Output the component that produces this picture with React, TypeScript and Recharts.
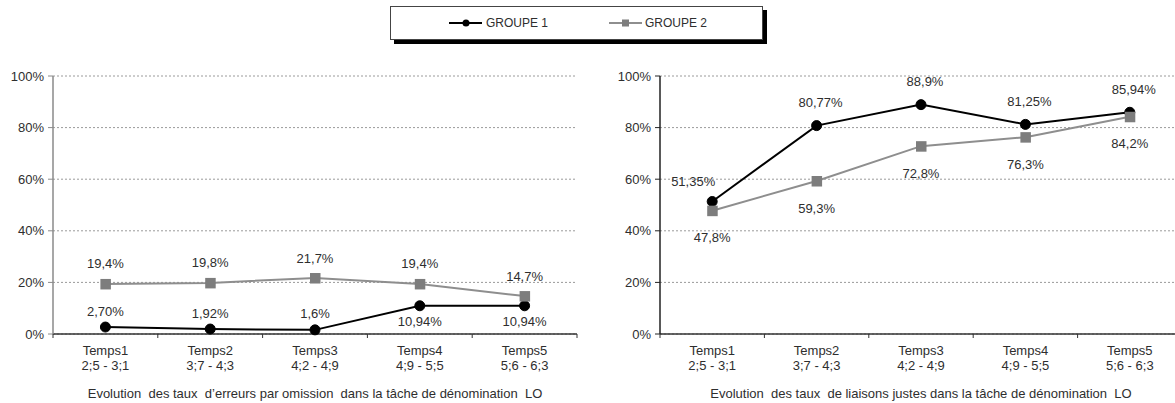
import React from 'react';
import { LineChart, Line, XAxis, YAxis, CartesianGrid, LabelList, Label } from 'recharts';

const temps = ['Temps1', 'Temps2', 'Temps3', 'Temps4', 'Temps5'];
const ages = ['2;5 - 3;1', '3;7 - 4;3', '4;2 - 4;9', '4;9 - 5;5', '5;6 - 6;3'];
const yTicks = [0, 20, 40, 60, 80, 100];

// taux d'erreurs par omission
const omissionGroupe1 = [2.7, 1.92, 1.6, 10.94, 10.94];
const omissionGroupe2 = [19.4, 19.8, 21.7, 19.4, 14.7];
const omissionLabels1 = ['2,70%', '1,92%', '1,6%', '10,94%', '10,94%'];
const omissionLabels2 = ['19,4%', '19,8%', '21,7%', '19,4%', '14,7%'];

// taux de liaisons justes
const liaisonGroupe1 = [51.35, 80.77, 88.9, 81.25, 85.94];
const liaisonGroupe2 = [47.8, 59.3, 72.8, 76.3, 84.2];
const liaisonLabels1 = ['51,35%', '80,77%', '88,9%', '81,25%', '85,94%'];
const liaisonLabels2 = ['47,8%', '59,3%', '72,8%', '76,3%', '84,2%'];

// where each value label sits relative to its point
const omissionPlace1 = ['up', 'up', 'up', 'down', 'down'];
const omissionPlace2 = ['up', 'up', 'up', 'up', 'up'];
const liaisonPlace1 = ['upLeft', 'up', 'up', 'up', 'up'];
const liaisonPlace2 = ['down', 'down', 'down', 'down', 'down'];

const FONT = '"Liberation Sans", Arial, sans-serif';
const TEXT = '#2e2e2e';
const G1_COLOR = '#000';
const G2_LINE = '#8e8e8e';
const G2_MARK = '#7d7d7d';

const omissionData = temps.map((t, i) => ({ name: t, g1: omissionGroupe1[i], g2: omissionGroupe2[i] }));
const liaisonData = temps.map((t, i) => ({ name: t, g1: liaisonGroupe1[i], g2: liaisonGroupe2[i] }));

const makeTick = (halfBand: number) => (props: any) => {
  const { x, y, index, payload } = props;
  return (
    <g>
      <line x1={x - halfBand} y1={y} x2={x - halfBand} y2={y + 4} stroke="#333" />
      {index === temps.length - 1 && (
        <line x1={x + halfBand} y1={y} x2={x + halfBand} y2={y + 4} stroke="#333" />
      )}
      <text x={x} y={y + 21} textAnchor="middle" fontSize={13} fill={TEXT} fontFamily={FONT}>
        {payload.value}
      </text>
      <text x={x} y={y + 36} textAnchor="middle" fontSize={13} fill={TEXT} fontFamily={FONT}>
        {ages[index]}
      </text>
    </g>
  );
};

const makeLabel =
  (labels: string[], places: string[], offsets: Record<string, [number, number]>) => (props: any) => {
    const { x, y, index } = props;
    const [dx, dy] = offsets[places[index]];
    return (
      <text
        x={x + dx}
        y={y + dy}
        textAnchor="middle"
        dominantBaseline="central"
        fontSize={13}
        fill={TEXT}
        fontFamily={FONT}
      >
        {labels[index]}
      </text>
    );
  };

const squareDot = (props: any) => {
  const { cx, cy, index } = props;
  return <rect key={index} x={cx - 5} y={cy - 5} width={10.5} height={10.5} fill={G2_MARK} />;
};

const makeTitle = (title: string) => (props: any) => {
  const { viewBox } = props;
  return (
    <text
      x={viewBox.x + viewBox.width / 2}
      y={viewBox.y + viewBox.height - 5}
      textAnchor="middle"
      fontSize={13}
      fill={TEXT}
      fontFamily={FONT}
      style={{ whiteSpace: 'pre' }}
    >
      {title}
    </text>
  );
};

function Panel({
  data,
  width,
  yAxisWidth,
  yAxisColor,
  right,
  title,
  labels1,
  labels2,
  place1,
  place2,
  off1,
  off2,
}: any) {
  const plotWidth = width - yAxisWidth - right;
  const halfBand = plotWidth / temps.length / 2;
  return (
    <LineChart width={width} height={343} data={data} margin={{ top: 16, right, left: 0, bottom: 0 }}>
      <CartesianGrid vertical={false} stroke="#9a9a9a" strokeDasharray="2 2" />
      <XAxis
        dataKey="name"
        interval={0}
        height={69}
        padding={{ left: halfBand, right: halfBand }}
        tickSize={0}
        tickMargin={0}
        tickLine={false}
        axisLine={{ stroke: '#333', strokeWidth: 1.5 }}
        tick={makeTick(halfBand)}
      >
        <Label content={makeTitle(title)} />
      </XAxis>
      <YAxis
        width={yAxisWidth}
        domain={[0, 100]}
        ticks={yTicks}
        tickFormatter={(v: number) => `${v}%`}
        tickSize={5}
        tickMargin={4}
        tickLine={{ stroke: yAxisColor }}
        axisLine={{ stroke: yAxisColor, strokeWidth: 1.5 }}
        tick={{ fontSize: 13, fill: TEXT, fontFamily: FONT }}
      />
      <Line
        type="linear"
        dataKey="g1"
        stroke={G1_COLOR}
        strokeWidth={2}
        dot={{ r: 5, fill: G1_COLOR, stroke: G1_COLOR, strokeWidth: 1 }}
        isAnimationActive={false}
      >
        <LabelList dataKey="g1" content={makeLabel(labels1, place1, off1)} />
      </Line>
      <Line
        type="linear"
        dataKey="g2"
        stroke={G2_LINE}
        strokeWidth={2}
        dot={squareDot}
        isAnimationActive={false}
      >
        <LabelList dataKey="g2" content={makeLabel(labels2, place2, off2)} />
      </Line>
    </LineChart>
  );
}

function LegendBox() {
  return (
    <div
      style={{
        position: 'absolute',
        left: 390,
        top: 6,
        width: 371,
        height: 32,
        border: '1px solid #444',
        boxShadow: '4px 4px 0 #000',
        background: '#fff',
        fontFamily: FONT,
        fontSize: 12,
        color: TEXT,
      }}
    >
      <svg width={40} height={10} style={{ position: 'absolute', left: 57, top: 11 }}>
        <line x1={1} y1={5} x2={34} y2={5} stroke={G1_COLOR} strokeWidth={2} />
        <circle cx={18} cy={5} r={3.5} fill={G1_COLOR} />
      </svg>
      <span style={{ position: 'absolute', left: 95, top: 9 }}>GROUPE 1</span>
      <svg width={40} height={10} style={{ position: 'absolute', left: 217, top: 11 }}>
        <line x1={1} y1={5} x2={34} y2={5} stroke={G2_LINE} strokeWidth={2} />
        <rect x={14} y={1.5} width={7} height={7} fill={G2_MARK} />
      </svg>
      <span style={{ position: 'absolute', left: 254, top: 9 }}>GROUPE 2</span>
    </div>
  );
}

export default function App() {
  return (
    <div
      style={{
        position: 'absolute',
        left: 0,
        top: 0,
        width: 1175,
        height: 403,
        overflow: 'hidden',
        background: '#fff',
      }}
    >
      <LegendBox />
      <div style={{ position: 'absolute', left: 0, top: 60 }}>
        <Panel
          data={omissionData}
          width={600}
          yAxisWidth={53}
          yAxisColor="#8a8a8a"
          right={23}
          title={'Evolution  des taux  d\u2019erreurs par omission  dans la t\u00e2che de d\u00e9nomination  LO'}
          labels1={omissionLabels1}
          labels2={omissionLabels2}
          place1={omissionPlace1}
          place2={omissionPlace2}
          off1={{ up: [0, -16], down: [0, 16] }}
          off2={{ up: [0, -20] }}
        />
      </div>
      <div style={{ position: 'absolute', left: 600, top: 60 }}>
        <Panel
          data={liaisonData}
          width={582}
          yAxisWidth={60}
          yAxisColor="#222"
          right={0}
          title={'Evolution  des taux  de liaisons justes dans la t\u00e2che de d\u00e9nomination  LO'}
          labels1={liaisonLabels1}
          labels2={liaisonLabels2}
          place1={liaisonPlace1}
          place2={liaisonPlace2}
          off1={{ up: [4, -23], upLeft: [-19, -20] }}
          off2={{ down: [0, 27] }}
        />
      </div>
    </div>
  );
}
